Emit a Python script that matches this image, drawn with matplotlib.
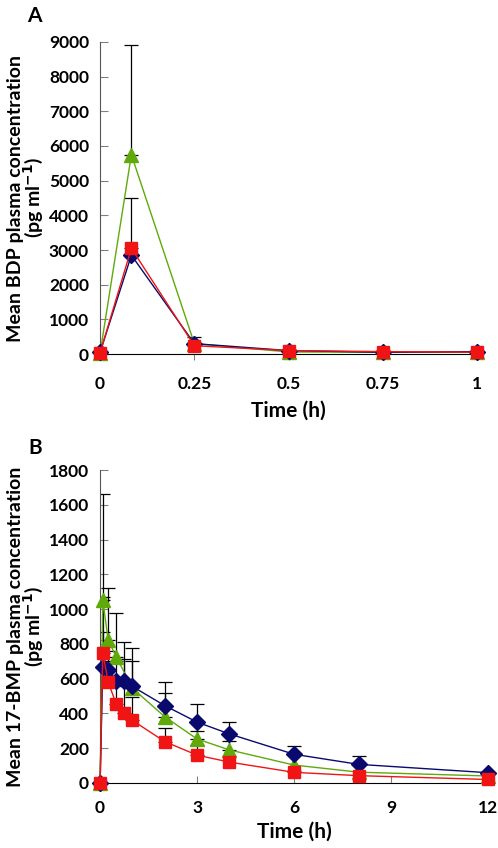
import numpy as np
import matplotlib
matplotlib.use('Agg')
import matplotlib.pyplot as plt

plt.rcParams['font.family'] = ['Lato', 'DejaVu Sans']
plt.rcParams['font.weight'] = 'bold'
plt.rcParams['axes.labelweight'] = 'bold'

# Panel A: BDP
time_a = [0, 0.083, 0.25, 0.5, 0.75, 1]
bdp_blue = [50, 2850, 300, 100, 50, 70]
bdp_red = [40, 3050, 240, 100, 70, 55]
bdp_green = [30, 5750, 300, 60, 50, 50]
bdp_blue_up = [0, 0, 0, 0, 0, 0]
bdp_red_up = [0, 4490, 0, 0, 0, 0]
bdp_green_up = [0, 8900, 480, 0, 0, 0]

# Panel B: 17-BMP
time_b = [0, 0.083, 0.25, 0.5, 0.75, 1, 2, 3, 4, 6, 8, 12]
bmp_blue = [0, 667, 650, 587, 587, 555, 445, 350, 282, 165, 107, 59]
bmp_blue_up = [0, 870, 760, 700, 809, 778, 579, 455, 350, 215, 155, 0]
bmp_red = [0, 750, 580, 454, 400, 360, 238, 160, 120, 61, 42, 20]
bmp_red_up = [0, 1665, 700, 560, 711, 493, 318, 220, 0, 0, 0, 0]
time_b_green = [0, 0.083, 0.25, 0.5, 1, 2, 3, 4, 6, 8, 12]
bmp_green = [0, 1052, 822, 725, 545, 381, 253, 190, 103, 62, 40]
bmp_green_up = [0, 1071, 1123, 979, 700, 515, 300, 240, 0, 0, 0]

blue = '#0A0A6E'
red = '#F01414'
green = '#5FAA0A'


def draw(ax, t, v, up, color, marker, ms):
    t = np.array(t); v = np.array(v, float); up = np.array(up, float)
    m = up > v
    ax.errorbar(t[m], v[m], yerr=[np.zeros(m.sum()), up[m] - v[m]], fmt='none',
                ecolor='black', elinewidth=0.9, capsize=5, capthick=0.9, zorder=2)
    ax.plot(t, v, color=color, lw=1, marker=marker, ms=ms, mfc=color, mec=color,
            clip_on=False, zorder=3)


def style(ax):
    for s in ['top', 'right']:
        ax.spines[s].set_visible(False)
    ax.spines['left'].set_color('#555555')
    ax.spines['bottom'].set_color('black')
    ax.tick_params(axis='y', direction='in', length=6, color='#808080', labelsize=12.5, pad=8)


fig = plt.figure(figsize=(4.98, 8.48), dpi=100)

ax1 = fig.add_axes([0.201, 0.5825, 0.757, 0.368])
draw(ax1, time_a, bdp_green, bdp_green_up, green, '^', 10)
draw(ax1, time_a, bdp_blue, bdp_blue_up, blue, 'D', 8)
draw(ax1, time_a, bdp_red, bdp_red_up, red, 's', 8.5)
ax1.set_xlim(0, 1)
ax1.set_ylim(0, 9000)
ax1.set_yticks(range(0, 9001, 1000))
ax1.set_xticks([0, 0.25, 0.5, 0.75, 1])
ax1.set_xticklabels(['0', '0.25', '0.5', '0.75', '1'])
ax1.tick_params(axis='x', direction='out', length=4, color='#808080', labelsize=12.5, pad=12)
style(ax1)
ax1.set_xlabel('Time (h)', fontsize=15, labelpad=6)
ax1.set_ylabel('Mean BDP plasma concentration\n(pg ml$^{\\mathbf{-1}}$)', fontsize=14,
               linespacing=0.85)
ax1.yaxis.set_label_coords(-0.146, 0.5)
fig.text(0.054, 0.993, 'A', fontsize=15, va='top')

ax2 = fig.add_axes([0.201, 0.0767, 0.779, 0.369])
draw(ax2, time_b_green, bmp_green, bmp_green_up, green, '^', 10)
draw(ax2, time_b, bmp_blue, bmp_blue_up, blue, 'D', 8)
draw(ax2, time_b, bmp_red, bmp_red_up, red, 's', 8)
ax2.set_xlim(0, 12)
ax2.set_ylim(0, 1800)
ax2.set_yticks(range(0, 1801, 200))
ax2.set_xticks([0, 3, 6, 9, 12])
ax2.tick_params(axis='x', direction='in', length=5, color='#808080', labelsize=12.5, pad=12)
style(ax2)
ax2.set_xlabel('Time (h)', fontsize=15, labelpad=4)
ax2.set_ylabel('Mean 17-BMP plasma concentration\n(pg ml$^{\\mathbf{-1}}$)', fontsize=14,
               linespacing=0.85)
ax2.yaxis.set_label_coords(-0.142, 0.5)
fig.text(0.056, 0.483, 'B', fontsize=15, va='top')

fig.savefig('out.png', dpi=100)
